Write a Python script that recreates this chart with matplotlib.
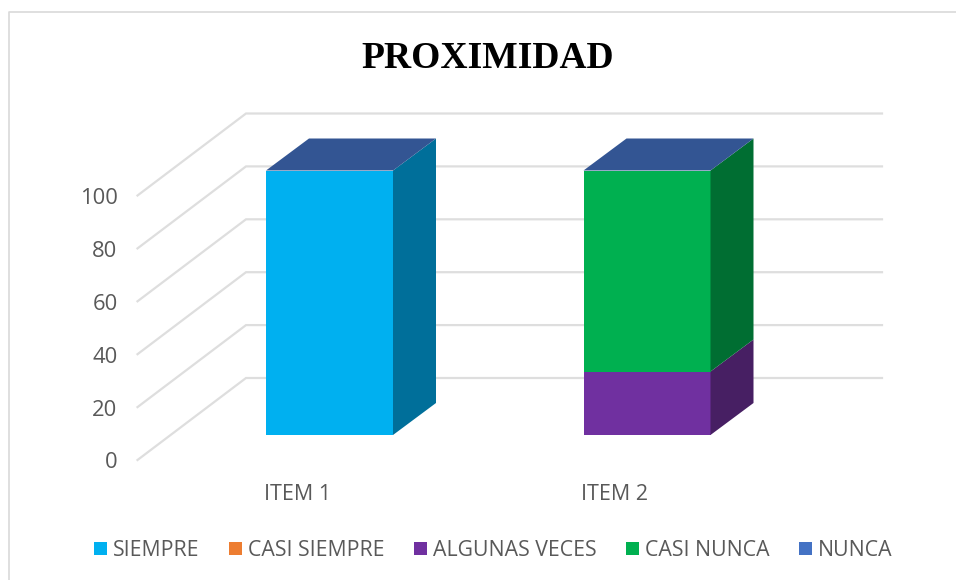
import matplotlib
matplotlib.use("Agg")
import matplotlib.pyplot as plt
from matplotlib.patches import Polygon, Patch
from matplotlib.lines import Line2D

categories = ["ITEM 1", "ITEM 2"]
series = ["SIEMPRE", "CASI SIEMPRE", "ALGUNAS VECES", "CASI NUNCA", "NUNCA"]
siempre = [100, 0]
casi_siempre = [0, 0]
algunas_veces = [0, 24]
casi_nunca = [0, 76]
nunca = [0, 0]
values = [siempre, casi_siempre, algunas_veces, casi_nunca, nunca]
y_ticks = [0, 20, 40, 60, 80, 100]

front = ["#00B0F0", "#ED7D31", "#7030A0", "#00B050", "#4472C4"]
side = ["#006F9A", "#A5501B", "#471F63", "#006E32", "#2F4F8A"]
top_col = "#335593"
grid_col = "#DEDEDE"
text_col = "#595959"

W, H = 956, 580
fig = plt.figure(figsize=(W / 100, H / 100), dpi=100, facecolor="white")
ax = fig.add_axes([0, 0, 1, 1])

# scale: one category step = 317.5 px, one value unit = 2.645 px
xs, ys = 317.5, 2.645
x0, y0 = 329.5, 435
ax.set_xlim(-x0 / xs, (W - x0) / xs)
ax.set_ylim((y0 - H) / ys, y0 / ys)
ax.axis("off")

bar_w = 127 / xs
bar_dx, bar_dy = 43 / xs, 32 / ys
wall_x_front = (137.5 - x0) / xs
wall_x_back = (246 - x0) / xs
wall_x_right = (882 - x0) / xs
wall_y_front = -25 / ys
wall_y_back = 57 / ys

for t in y_ticks:
    ax.plot([wall_x_front, wall_x_back, wall_x_right],
            [t + wall_y_front, t + wall_y_back, t + wall_y_back],
            color=grid_col, lw=1.6, solid_joinstyle="miter", zorder=1)
    ax.text(wall_x_front - 20 / xs, t + wall_y_front - 3 / ys, str(t), ha="right", va="center",
            fontsize=15.8, family="Open Sans", color=text_col)

for i, cat in enumerate(categories):
    l, r = i - bar_w / 2, i + bar_w / 2
    bottom = 0
    for s in range(len(series)):
        v = values[s][i]
        if v == 0:
            continue
        tp = bottom + v
        ax.add_patch(Polygon([(l, bottom), (r, bottom), (r, tp), (l, tp)],
                             fc=front[s], ec="none", zorder=3))
        ax.add_patch(Polygon([(r, bottom), (r + bar_dx, bottom + bar_dy),
                              (r + bar_dx, tp + bar_dy), (r, tp)],
                             fc=side[s], ec="none", zorder=3))
        bottom = tp
    ax.add_patch(Polygon([(l, bottom), (r, bottom), (r + bar_dx, bottom + bar_dy),
                          (l + bar_dx, bottom + bar_dy)],
                         fc=top_col, ec="none", zorder=3))
    ax.text(l - 2.5 / xs, -59 / ys, cat, ha="left", va="center",
            fontsize=15.5, family="Open Sans", color=text_col)

# chart frame: left and top edges only, running off the image
frame_x = [(8.5 - x0) / xs, (8.5 - x0) / xs, (W - x0) / xs]
frame_y = [(y0 - H) / ys, (y0 - 12) / ys, (y0 - 12) / ys]
ax.add_line(Line2D(frame_x, frame_y, color="#D9D9D9", lw=1.2, zorder=0))

ax.text((487.5 - x0) / xs, (y0 - 58) / ys, "PROXIMIDAD", ha="center", va="center",
        fontsize=27, fontweight="bold", family="Liberation Serif", color="black")

handles = [Patch(fc=c, ec="none") for c in front]
fig.legend(handles, series, loc="center", bbox_to_anchor=(493 / W, 1 - 550.5 / H),
           ncol=5, frameon=False, prop={"family": "Open Sans", "size": 15.3},
           labelcolor=text_col, handlelength=0.62, handleheight=0.62,
           handletextpad=0.28, columnspacing=1.38)

fig.savefig("out.png", dpi=100)
